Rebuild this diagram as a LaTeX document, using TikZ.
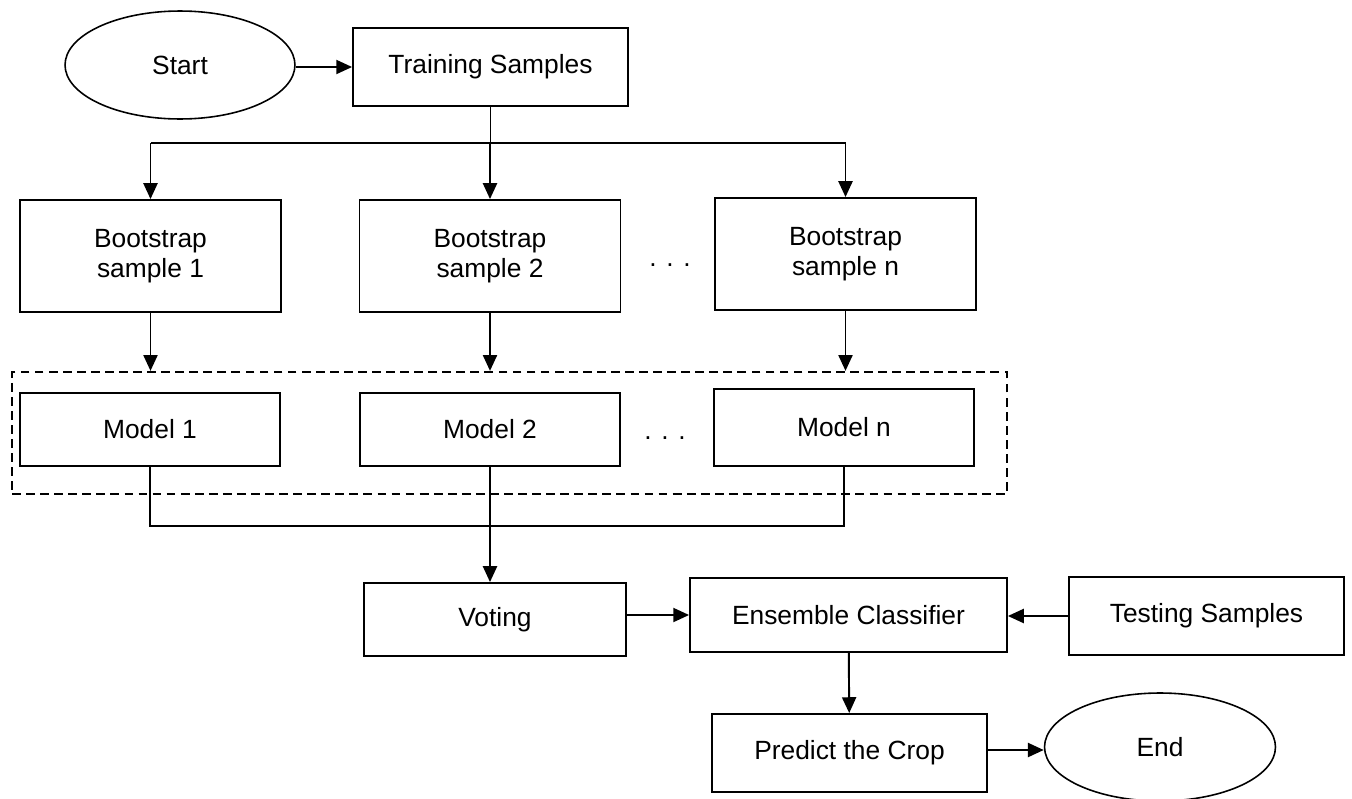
\documentclass[tikz,border=0pt]{standalone}
\usepackage{fontspec}
\setmainfont{Liberation Sans}
\usetikzlibrary{shapes.geometric,positioning,arrows.meta}

\begin{document}
\begin{tikzpicture}[x=0.02cm, y=-0.02cm, font=\fontsize{15}{17}\selectfont]
    \tikzset{>={Triangle[length=9pt, width=8pt]}}
    % Node styles
    \tikzstyle{terminal} = [ellipse, minimum width = 4.6cm, minimum height = 2.16cm, inner sep = 0pt, draw = black, line width = 0.9pt]
    \tikzstyle{block}    = [rectangle, minimum width = 5.5cm, minimum height = 1.56cm, text centered, align = center, draw = black, line width = 1.1pt]
    \tikzstyle{sample}   = [block, minimum width = 5.22cm, minimum height = 2.24cm]
    \tikzstyle{model}    = [block, minimum width = 5.2cm, minimum height = 1.46cm]
    \tikzstyle{group}    = [rectangle, draw = black, line width = 1.3pt, dash pattern = on 5pt off 3pt, minimum width = 19.9cm, minimum height = 2.44cm]
    \tikzstyle{arrow}    = [line width = 1.1pt, ->]
    \tikzstyle{link}     = [line width = 1.1pt]

    \useasboundingbox (0,0) rectangle (1352,798);

    \node[terminal] (start) at (180,65) {Start};
    \node[block] (train) at (490.5,67) {Training Samples};

    \node[sample] (boot1) at (150.5,256) {Bootstrap\\sample 1};
    \node[sample] (boot2) at (490,256) {Bootstrap\\sample 2};
    \node[sample] (bootn) at (845.5,254) {Bootstrap\\sample n};
    \node (dotsA) at (670,265) {. . .};

    % Dashed frame round the models
    \node[group] (ens) at (509.5,433) {};
    \node[model] (model1) at (150,429.5) {Model 1};
    \node[model] (model2) at (490,429.5) {Model 2};
    \node[model, minimum height = 1.54cm] (modeln) at (844,427.5) {Model n};
    \node (dotsB) at (665,438) {. . .};

    \node[block, minimum width = 5.24cm, minimum height = 1.46cm] (voting) at (495,619.5) {Voting};
    \node[block, minimum width = 6.34cm, minimum height = 1.48cm] (ensemble) at (848.5,615) {Ensemble Classifier};
    \node[block] (testing) at (1206.5,616) {Testing Samples};
    \node[block] (predict) at (849.5,753) {Predict the Crop};
    \node[terminal, minimum width = 4.62cm] (end) at (1160,747) {End};

    \coordinate (split) at (492,143);
    \coordinate (join)  at (495,526);

    \draw[arrow] (start.east |- train) -- (train.west);
    \draw[link] (train) -- (train |- split);
    \draw[link] (split -| boot1) -- (split -| bootn);
    \foreach \b in {boot1,boot2,bootn}
        \draw[arrow] (split -| \b) -- (\b);
    \foreach \b in {boot1,boot2,bootn}
        \draw[arrow] (\b) -- (\b |- ens.north);

    \draw[link] (model1) -- (model1 |- join) -- (modeln |- join) -- (modeln);
    \draw[arrow] (model2) -- (model2 |- voting.north);

    \draw[arrow] (voting.east |- ensemble) -- (ensemble.west);
    \draw[arrow] (testing) -- (testing -| ensemble.east);
    \draw[arrow] (ensemble) -- (predict);
    \draw[arrow] (predict.east |- 0,750) -- (end.west |- 0,750);
\end{tikzpicture}
\end{document}
